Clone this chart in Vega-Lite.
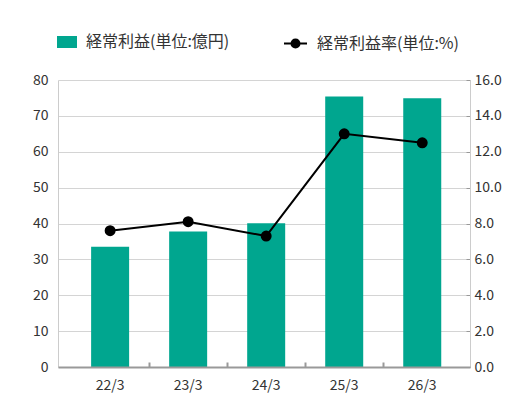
{
  "$schema": "https://vega.github.io/schema/vega-lite/v6.json",
  "width": 412,
  "height": 287,
  "autosize": {"type": "none"},
  "padding": {"left": 58, "top": 80, "right": 60, "bottom": 49},
  "background": "white",
  "config": {
    "font": "Noto Sans CJK JP",
    "view": {"stroke": null},
    "axis": {"labelFont": "Noto Sans CJK JP", "labelFontSize": 14, "labelColor": "#333333", "title": null},
    "legend": {"labelFont": "Noto Sans CJK JP", "labelFontSize": 16, "labelColor": "#333333"}
  },
  "data": {
    "values": [
      {"year": "22/3", "profit": 33.5, "margin": 7.6},
      {"year": "23/3", "profit": 37.8, "margin": 8.1},
      {"year": "24/3", "profit": 40.1, "margin": 7.3},
      {"year": "25/3", "profit": 75.4, "margin": 13.0},
      {"year": "26/3", "profit": 74.9, "margin": 12.5}
    ]
  },
  "encoding": {
    "x": {
      "field": "year",
      "type": "ordinal",
      "scale": {"paddingInner": 0, "paddingOuter": 0.14, "align": 0.6},
      "axis": {
        "bandPosition": 0,
        "labelOffset": 0,
        "labelAngle": 0,
        "labelPadding": 16,
        "domainColor": "#999999",
        "domainWidth": 2,
        "tickColor": "#999999",
        "tickWidth": 2,
        "tickSize": -5,
        "tickOpacity": {"condition": {"test": "datum.value === '22/3'", "value": 0}, "value": 1},
        "grid": false,
        "zindex": 1
      }
    }
  },
  "layer": [
    {
      "mark": {"type": "bar", "width": {"band": 0.487}},
      "encoding": {
        "y": {
          "field": "profit",
          "type": "quantitative",
          "scale": {"domain": [0, 80]},
          "axis": {
            "orient": "left",
            "values": [0, 10, 20, 30, 40, 50, 60, 70, 80],
            "grid": true,
            "gridColor": "#d4d4d4",
            "ticks": false,
            "domain": true,
            "domainColor": "#cccccc",
            "labelPadding": 10
          }
        },
        "fill": {
          "datum": "経常利益(単位:億円)",
          "scale": {"range": ["#00a68f"]},
          "legend": {
            "title": null,
            "orient": "none",
            "legendX": -1,
            "legendY": -48,
            "padding": 0,
            "symbolType": "M-1,-0.6H1V0.6H-1Z",
            "symbolSize": 400,
            "symbolStrokeWidth": 0,
            "labelOffset": 9
          }
        }
      }
    },
    {
      "mark": {"type": "line", "color": "#000000", "strokeWidth": 2, "point": {"filled": true, "size": 80, "color": "#000000"}},
      "encoding": {
        "y": {
          "field": "margin",
          "type": "quantitative",
          "scale": {"domain": [0, 16]},
          "axis": {
            "orient": "right",
            "values": [0, 2, 4, 6, 8, 10, 12, 14, 16],
            "format": ".1f",
            "grid": false,
            "tickColor": "#999999",
            "tickSize": -4,
            "domain": true,
            "domainColor": "#cccccc",
            "labelPadding": 8
          }
        },
        "stroke": {
          "datum": "経常利益率(単位:%)",
          "scale": {"range": ["#000000"]},
          "legend": {
            "title": null,
            "orient": "none",
            "legendX": 225,
            "legendY": -49,
            "padding": 0,
            "symbolType": "M-1,0H1M-0.35,0A0.35,0.35 0 1,1 0.35,0A0.35,0.35 0 1,1 -0.35,0Z",
            "symbolSize": 529,
            "symbolStrokeWidth": 2,
            "symbolFillColor": "#000000",
            "labelOffset": 9,
            "encode": {"symbols": {"update": {"fill": {"value": "#000000"}, "stroke": {"value": "#000000"}}}}
          }
        }
      }
    }
  ],
  "resolve": {"scale": {"y": "independent", "fill": "independent", "stroke": "independent"}}
}
